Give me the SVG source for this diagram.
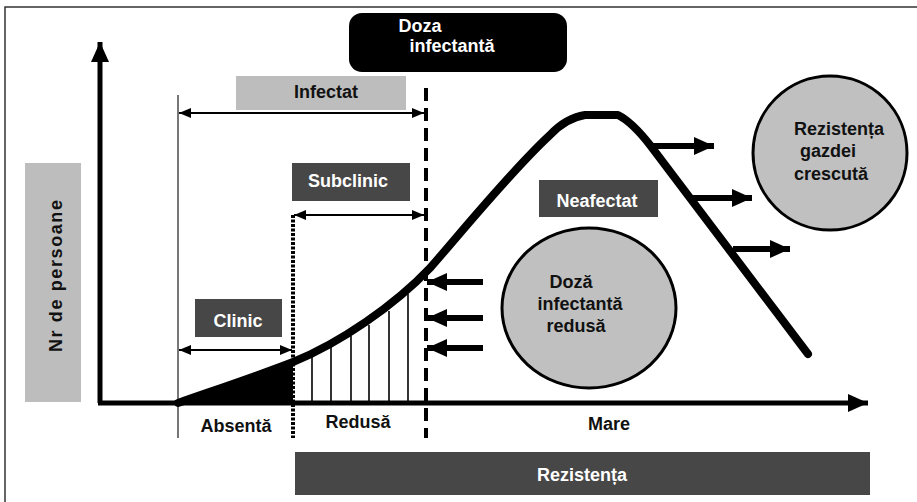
<svg xmlns="http://www.w3.org/2000/svg" width="917" height="502" viewBox="0 0 917 502">
<defs>
<style>
text{font-family:"Liberation Sans",Arial,sans-serif;font-weight:bold;font-size:18px;text-anchor:middle}
.w{fill:#fff}
.k{fill:#111}
.lbl{fill:#bdbdbd}
.dk{fill:#474747}
.circ{fill:#c0c0c0;stroke:#000;stroke-width:3}
.thin{stroke:#000;stroke-width:2;fill:none}
.hatch{stroke:#000;stroke-width:1.6}
.fat{stroke:#000;stroke-width:6;fill:none}
</style>
<marker id="ahs" viewBox="0 0 10 10" refX="10" refY="5" markerWidth="12" markerHeight="10" markerUnits="userSpaceOnUse" orient="auto-start-reverse" preserveAspectRatio="none">
<path d="M0,0 L10,5 L0,10 z" fill="#000"/>
</marker>
<marker id="ahb" viewBox="0 0 10 10" refX="10" refY="5" markerWidth="20" markerHeight="18" markerUnits="userSpaceOnUse" orient="auto" preserveAspectRatio="none">
<path d="M0,0 L10,5 L0,10 z" fill="#000"/>
</marker>
</defs>
<rect x="5" y="7" width="940" height="520" fill="#fff" stroke="#333" stroke-width="1.5"/>

<g id="ylabel">
<rect x="25" y="163" width="56" height="239" class="lbl"/>
<text class="k" transform="translate(62,276) rotate(-90)" font-size="19" textLength="152" lengthAdjust="spacing">Nr de persoane</text>
</g>

<g id="curve-area">
<path d="M178,403 C215,390 260,375 293,362 L293,403 Z" fill="#000"/>
<line class="hatch" x1="312" y1="355" x2="312" y2="403"/>
<line class="hatch" x1="331" y1="346" x2="331" y2="403"/>
<line class="hatch" x1="351" y1="336" x2="351" y2="403"/>
<line class="hatch" x1="369" y1="325" x2="369" y2="403"/>
<line class="hatch" x1="389" y1="311" x2="389" y2="403"/>
<line class="hatch" x1="408" y1="294" x2="408" y2="403"/>
</g>

<g id="axes">
<line x1="100" y1="403" x2="100" y2="42" stroke="#000" stroke-width="5" marker-end="url(#ahb)"/>
<line x1="98" y1="403" x2="868" y2="403" stroke="#000" stroke-width="5" marker-end="url(#ahb)"/>
</g>

<g id="connectors">
<line x1="178" y1="95" x2="178" y2="438" stroke="#555" stroke-width="1.6"/>
<line x1="426" y1="88" x2="426" y2="438" stroke="#000" stroke-width="4" stroke-dasharray="13 7"/>
<line x1="293" y1="215" x2="293" y2="438" stroke="#000" stroke-width="4" stroke-dasharray="3 1.5"/>
<line class="thin" x1="179" y1="113" x2="424" y2="113" marker-start="url(#ahs)" marker-end="url(#ahs)"/>
<line class="thin" x1="294" y1="215" x2="424" y2="215" marker-start="url(#ahs)" marker-end="url(#ahs)"/>
<line x1="425" y1="209" x2="425" y2="221" stroke="#000" stroke-width="2"/>
<line class="thin" x1="179" y1="350" x2="292" y2="350" marker-start="url(#ahs)" marker-end="url(#ahs)"/>
<line class="fat" x1="483" y1="282" x2="427" y2="282" marker-end="url(#ahb)"/>
<line class="fat" x1="483" y1="318" x2="427" y2="318" marker-end="url(#ahb)"/>
<line class="fat" x1="483" y1="348" x2="427" y2="348" marker-end="url(#ahb)"/>
<line class="fat" x1="650" y1="146" x2="714" y2="146" marker-end="url(#ahb)"/>
<line class="fat" x1="693" y1="198" x2="752" y2="198" marker-end="url(#ahb)"/>
<line class="fat" x1="733" y1="249" x2="790" y2="249" marker-end="url(#ahb)"/>
</g>

<g id="curve">
<path d="M178,403 C215,390 260,375 293,362 C340,343 395,305 430,268 C460,234 510,172 550,135 Q566,118 585,115 L618,115 Q632,122 650,145 L808,354" fill="none" stroke="#000" stroke-width="8" stroke-linecap="round" stroke-linejoin="round"/>
</g>

<g id="doza">
<rect x="349" y="13" width="218" height="59" rx="13" fill="#000"/>
<text class="w" x="420" y="32">Doza</text>
<text class="w" x="452" y="52">infectantă</text>
</g>

<g id="infectat">
<rect x="236" y="76" width="170" height="34" class="lbl"/>
<text class="k" x="326" y="98">Infectat</text>
</g>

<g id="subclinic">
<rect x="292" y="163" width="118" height="38" class="dk"/>
<text class="w" x="348" y="187">Subclinic</text>
</g>

<g id="clinic">
<rect x="195" y="299" width="87" height="38" class="dk"/>
<text class="w" x="238" y="327">Clinic</text>
</g>

<g id="neafectat">
<rect x="539" y="180" width="119" height="37" class="dk"/>
<text class="w" x="597" y="207">Neafectat</text>
</g>

<g id="rezistenta-gazdei">
<circle cx="830" cy="153" r="77" class="circ"/>
<text class="k" x="839" y="135">Rezistența</text>
<text class="k" x="828" y="157">gazdei</text>
<text class="k" x="831" y="180">crescută</text>
</g>

<g id="doza-redusa">
<ellipse cx="589" cy="308" rx="87" ry="80" class="circ"/>
<text class="k" x="571" y="288">Doză</text>
<text class="k" x="580" y="310">infectantă</text>
<text class="k" x="576" y="332">redusă</text>
</g>

<g id="axis-labels">
<text class="k" x="236" y="432">Absentă</text>
<text class="k" x="358" y="428">Redusă</text>
<text class="k" x="609" y="430">Mare</text>
</g>

<g id="rezistenta">
<rect x="295" y="452" width="575" height="43" class="dk"/>
<text class="w" x="582" y="481">Rezistența</text>
</g>
</svg>
